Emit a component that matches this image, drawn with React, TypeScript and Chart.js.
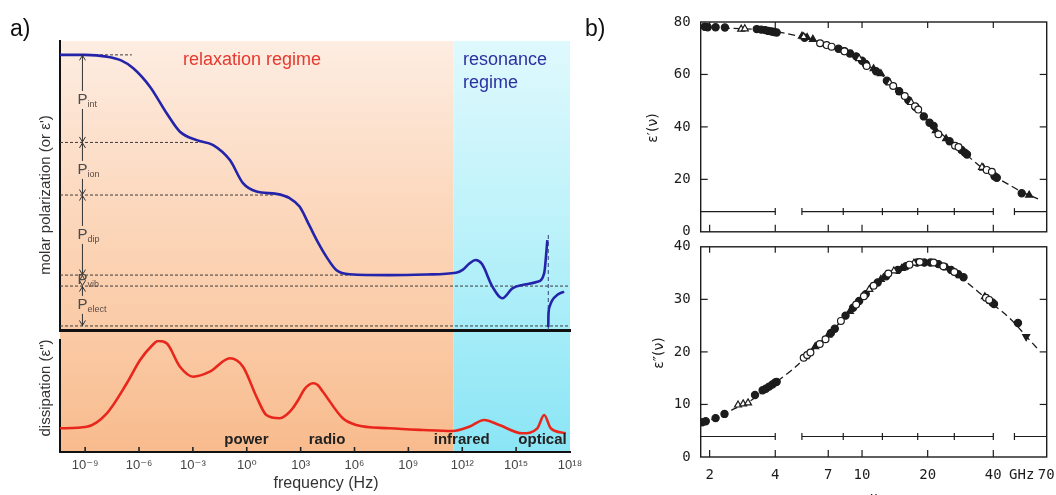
import React, { useEffect, useRef } from 'react';
import { Chart, registerables } from 'chart.js';

Chart.register(...registerables);

const SANS = "'Liberation Sans', Arial, 'DejaVu Sans', sans-serif";
const TYPE = "'DejaVu Sans Mono', monospace";
const INK = '#1c1c1c';

/* ---------------- panel a: generic dielectric spectrum ---------------- */
// frequency is expressed as log10(f / Hz)
const A_LOG_MIN = -10.4;
const A_LOG_MAX = 18;
const RESONANCE_START = 11.5;
const freqExponents = [-9, -6, -3, 0, 3, 6, 9, 12, 15, 18];

// molar polarization, arbitrary units (0..100)
const polLogF = [-10.4, -9, -7.8, -7.0, -6.32, -5.39, -4.46, -3.72, -2.79, -1.87, -0.94, -0.21, 0.54, 1.65, 2.39, 2.94, 3.5, 3.95, 4.43, 4.98, 5.72, 7.94, 10.0, 11.65, 12.02, 12.4, 12.75, 13.1, 13.68, 14.24, 14.79, 15.35, 16.18, 16.56, 16.74];
const polValue = [95.2, 95.2, 94.6, 93.3, 90.6, 84.2, 75.0, 68.6, 65.7, 64.0, 58.8, 50.8, 47.9, 47.1, 45.6, 42.7, 36.0, 30.5, 25.4, 20.8, 19.3, 19.0, 19.2, 19.8, 20.8, 23.0, 24.2, 22.8, 15.0, 11.0, 14.4, 15.6, 16.7, 19.6, 31.1];
// branch above the electronic resonance
const polTailLogF = [16.79, 16.8, 16.86, 17.0, 17.3, 17.67];
const polTailValue = [1.0, 5.0, 8.0, 10.2, 12.2, 13.3];

// boundaries between the polarization contributions
const levelValues = [95.2, 64.9, 46.7, 19.0, 15.2, 1.4];
const levelEnds = [-6.4, -2.6, 1.45, 5.8, 18, 18];
const contribNames = ['int', 'ion', 'dip', 'vib', 'elect'];
const contribLabelValues = [79.6, 55.4, 32.9, 17.3, 8.7];
const ARROW_LOGF = -9.15;
const OPTICAL_EDGE = 16.79;
const OPTICAL_EDGE_TOP = 33.6;

// dissipation, arbitrary units (0..112)
const lossLogF = [-10.4, -8.91, -7.79, -6.68, -5.94, -5.3, -4.93, -4.46, -3.72, -2.98, -2.06, -0.94, -0.21, 0.54, 1.09, 1.83, 2.2, 2.55, 2.9, 3.2, 3.45, 3.7, 3.95, 4.24, 5.35, 6.09, 7.94, 9.79, 11.46, 12.39, 13.22, 14.06, 15.35, 16.18, 16.56, 16.93, 17.76];
const lossValue = [23.7, 25.3, 38.7, 68.7, 92.0, 106.0, 111.0, 108.7, 85.3, 75.3, 80.3, 93.7, 85.3, 55.3, 37.0, 33.7, 37.0, 43.5, 53.0, 62.5, 67.0, 68.7, 67.0, 60.3, 33.7, 27.0, 23.7, 22.0, 21.0, 25.3, 32.0, 27.0, 18.7, 23.7, 37.0, 23.7, 18.7];

const bandNames = ['power', 'radio', 'infrared', 'optical'];
const bandLogF = [-0.02, 4.47, 11.97, 16.47];
const BAND_LABEL_Y = 12;

/* ---------------- panel b: water, permittivity vs frequency (GHz) ---------------- */
const B_F_MIN = 1.82;
const B_F_MAX = 70.3;
const bTickValues = [2, 4, 7, 10, 20, 40, 70];
const bandEdgesGHz = [4.0, 5.3, 8.2, 12.4, 18, 26.5, 40, 50];
const bandSegmentsGHz = [[B_F_MIN, 4.0], [5.3, 40], [50, B_F_MAX]];

// real part
const realCurve = [[1.82, 78.2], [2.5, 77.6], [3.5, 77.0], [4.5, 75.6], [5.5, 74.0], [6.5, 72.2], [8, 69.3], [10, 64.8], [12, 60.5], [14, 56.0], [16, 51.3], [18, 47.0], [20, 42.6], [23, 37.6], [26, 33.8], [30, 29.5], [35, 24.8], [42, 20.4], [48, 17.6], [54, 15.2], [60, 13.6], [66, 12.1]];
const realFilled = [[1.9, 78.2], [1.96, 78.0], [2.13, 78.0], [2.35, 77.9], [3.29, 77.3], [3.45, 77.1], [3.6, 76.9], [3.72, 76.6], [3.85, 76.4], [3.95, 76.2], [4.06, 76.0], [5.45, 74.0], [7.8, 69.8], [8.3, 68.9], [8.8, 68.0], [9.4, 66.9], [10.0, 65.2], [10.4, 64.0], [11.6, 61.2], [13.0, 57.6], [14.8, 53.6], [16.3, 50.2], [17.6, 47.6], [19.2, 44.0], [20.4, 41.6], [21.3, 40.4], [25.2, 34.5], [28.6, 31.2], [29.6, 30.2], [30.3, 29.5], [40.5, 21.2], [41.5, 20.6], [54, 14.7]];
const realOpen = [[6.42, 71.9], [6.88, 71.2], [7.25, 70.6], [8.3, 68.8], [10.5, 63.2], [13.9, 55.6], [15.7, 51.8], [17.5, 47.9], [18.1, 46.6], [22.4, 37.2], [26.7, 32.8], [27.7, 32.3], [37.3, 23.6], [39.4, 22.9]];
const realTriFilled = [[5.3, 74.6], [5.6, 74.1], [5.95, 73.4], [9.0, 67.6], [11.3, 62.2], [12.2, 60.3], [15.0, 53.2], [21.8, 38.6], [24.3, 35.5], [36.0, 24.3], [58.4, 14.0]];
const realTriOpen = [[2.79, 77.3], [2.9, 77.4], [5.4, 74.4], [9.7, 66.0], [13.4, 56.8], [16.8, 49.3], [35.5, 24.6]];

// imaginary part
const imagCurve = [[1.82, 6.5], [2.2, 7.6], [2.6, 9.2], [3.0, 10.4], [3.5, 12.4], [4.0, 14.1], [5.0, 17.3], [6.0, 20.6], [7.0, 23.2], [8.0, 25.8], [9.0, 28.2], [10.0, 30.2], [12.0, 33.5], [14.0, 35.4], [16.0, 36.5], [18.0, 37.0], [20.0, 37.0], [22.0, 36.7], [25.0, 35.7], [28.0, 34.3], [32.0, 32.4], [36.0, 30.6], [40.0, 29.0], [45.0, 27.3], [50.0, 25.5], [56.0, 23.2], [63.5, 20.7]];
const imagFilled = [[1.85, 6.6], [1.92, 6.8], [2.13, 7.4], [2.34, 8.2], [3.23, 11.8], [3.5, 12.7], [3.62, 13.0], [3.75, 13.4], [3.88, 13.8], [4.0, 14.2], [4.06, 14.3], [7.2, 23.6], [7.5, 24.4], [8.4, 26.9], [9.1, 28.4], [9.7, 29.7], [10.4, 31.0], [11.8, 33.2], [12.9, 34.4], [14.6, 35.6], [15.9, 36.3], [17.9, 37.0], [19.3, 37.0], [20.6, 37.0], [22.4, 36.7], [25.6, 35.6], [27.6, 34.8], [29.2, 34.2], [39.6, 29.4], [40.3, 29.1], [51.9, 25.5]];
const imagOpen = [[5.4, 18.9], [5.6, 19.4], [5.8, 19.9], [6.4, 21.5], [6.8, 22.4], [8.0, 25.9], [9.4, 29.0], [10.2, 30.6], [11.3, 32.6], [13.2, 34.9], [16.5, 36.6], [18.4, 37.1], [21.3, 37.0], [23.6, 36.3], [26.5, 35.2], [37.0, 30.3], [38.3, 29.9]];
const imagTriFilled = [[6.1, 21.0], [7.0, 23.2], [8.8, 27.7], [12.2, 33.8], [15.2, 35.9], [24.5, 36.0], [28.2, 34.5], [39.0, 29.6]];
const imagTriOpen = [[2.7, 9.9], [2.85, 10.1], [3.0, 10.3], [5.5, 19.1], [10.8, 31.9], [14.0, 35.4], [17.3, 36.9], [36.6, 30.5]];
const imagTriDown = [[56.6, 22.9]];

/* ---------------- helpers ---------------- */
const SUP: Record<string, string> = {
  '-': '\u207B', '0': '\u2070', '1': '\u00B9', '2': '\u00B2', '3': '\u00B3', '4': '\u2074',
  '5': '\u2075', '6': '\u2076', '7': '\u2077', '8': '\u2078', '9': '\u2079',
};
const powerOfTen = (n: number) => '10' + String(n).split('').map((c) => SUP[c] ?? c).join('');
const toXY = (xs: number[], ys: number[]) => xs.map((x, i) => ({ x, y: ys[i] }));
const pairXY = (pairs: number[][]) => pairs.map(([x, y]) => ({ x, y }));

type Box = { left: number; top: number; width: number; height: number };
const A_TOP: Box = { left: 0, top: 0, width: 600, height: 336 };
const A_BOT: Box = { left: 0, top: 332, width: 600, height: 163 };
const B_TOP: Box = { left: 600, top: 0, width: 456, height: 252 };
const B_BOT: Box = { left: 600, top: 226, width: 456, height: 269 };

// shared page-wide gradient of the two regimes (page y 41 .. 452)
function paintRegimes(chart: any, box: Box, fromY: number) {
  const { ctx, chartArea: a, scales } = chart;
  const split = scales.x.getPixelForValue(RESONANCE_START);
  const g0 = 41 - box.top;
  const g1 = 452 - box.top;
  const orange = ctx.createLinearGradient(0, g0, 0, g1);
  orange.addColorStop(0, '#fdede2');
  orange.addColorStop(0.4, '#fcd8bd');
  orange.addColorStop(0.72, '#facaa5');
  orange.addColorStop(1, '#f8bb8d');
  const cyan = ctx.createLinearGradient(0, g0, 0, g1);
  cyan.addColorStop(0, '#dff9fd');
  cyan.addColorStop(0.45, '#bdf2fa');
  cyan.addColorStop(0.72, '#a3ecf8');
  cyan.addColorStop(1, '#8be5f5');
  ctx.save();
  ctx.fillStyle = orange;
  ctx.fillRect(a.left, fromY, split - a.left, a.bottom - fromY);
  ctx.fillStyle = cyan;
  ctx.fillRect(split, fromY, a.right - split, a.bottom - fromY);
  ctx.restore();
}

function rotatedText(ctx: CanvasRenderingContext2D, text: string, x: number, y: number, font: string, color: string) {
  ctx.save();
  ctx.translate(x, y);
  ctx.rotate(-Math.PI / 2);
  ctx.font = font;
  ctx.fillStyle = color;
  ctx.textAlign = 'center';
  ctx.textBaseline = 'middle';
  ctx.fillText(text, 0, 0);
  ctx.restore();
}

function seg(ctx: CanvasRenderingContext2D, x1: number, y1: number, x2: number, y2: number) {
  ctx.beginPath();
  ctx.moveTo(x1, y1);
  ctx.lineTo(x2, y2);
  ctx.stroke();
}

const hiddenAxis = (extra: any) => ({
  ticks: { display: false },
  grid: { display: false, drawTicks: false },
  ...extra,
});

/* ---------------- panel a, upper: polarization ---------------- */
const polarizationPlugin = {
  id: 'polarizationDecor',
  beforeDraw(chart: any) {
    paintRegimes(chart, A_TOP, chart.chartArea.top);
  },
  afterDatasetsDraw(chart: any) {
    const { ctx, scales } = chart;
    const x = scales.x.getPixelForValue(ARROW_LOGF);
    ctx.save();
    ctx.strokeStyle = '#333';
    ctx.lineWidth = 1;
    const head = (y: number, dir: number) => {
      ctx.beginPath();
      ctx.moveTo(x - 3, y + dir * 5);
      ctx.lineTo(x, y);
      ctx.lineTo(x + 3, y + dir * 5);
      ctx.stroke();
    };
    for (let i = 0; i < contribNames.length; i++) {
      const yTop = scales.y.getPixelForValue(levelValues[i]);
      const yBot = scales.y.getPixelForValue(levelValues[i + 1]);
      const yLab = scales.y.getPixelForValue(contribLabelValues[i]);
      if (yBot - yTop > 25) {
        seg(ctx, x, yTop, x, yLab - 9);
        seg(ctx, x, yLab + 9, x, yBot);
      }
      head(yTop + 0.5, 1);
      head(yBot - 0.5, -1);
      ctx.fillStyle = '#4a4a4a';
      ctx.textBaseline = 'middle';
      ctx.textAlign = 'center';
      ctx.font = `15px ${SANS}`;
      ctx.fillText('P', x, yLab);
      ctx.textAlign = 'left';
      ctx.font = `9px ${SANS}`;
      ctx.fillStyle = '#5a4a44';
      ctx.fillText(contribNames[i], x + 5, yLab + 5);
    }
    ctx.restore();
  },
  afterDraw(chart: any) {
    const { ctx } = chart;
    ctx.save();
    ctx.textBaseline = 'middle';
    ctx.textAlign = 'left';
    ctx.font = `18px ${SANS}`;
    ctx.fillStyle = '#e6392f';
    ctx.fillText('relaxation regime', 183, 60 - A_TOP.top);
    ctx.fillStyle = '#2c31a2';
    ctx.fillText('resonance', 463, 60 - A_TOP.top);
    ctx.fillText('regime', 463, 83 - A_TOP.top);
    ctx.restore();
    rotatedText(ctx, "molar polarization (or \u03B5')", 46, 195 - A_TOP.top, `15px ${SANS}`, '#333');
  },
};

function buildPolarization(canvas: HTMLCanvasElement) {
  const levelSets = levelValues.map((v, i) => ({
    data: [{ x: A_LOG_MIN, y: v }, { x: levelEnds[i], y: v }],
    borderColor: '#3c3c3c',
    borderWidth: 1,
    borderDash: [3, 2],
    pointRadius: 0,
  }));
  return new Chart(canvas, {
    type: 'line',
    data: {
      datasets: [
        { data: toXY(polLogF, polValue), borderColor: '#2424aa', borderWidth: 2.6, pointRadius: 0, cubicInterpolationMode: 'monotone' },
        { data: toXY(polTailLogF, polTailValue), borderColor: '#2424aa', borderWidth: 2.6, pointRadius: 0, cubicInterpolationMode: 'monotone' },
        { data: [{ x: OPTICAL_EDGE, y: 0 }, { x: OPTICAL_EDGE, y: OPTICAL_EDGE_TOP }], borderColor: '#36407e', borderWidth: 1, borderDash: [4, 3], pointRadius: 0 },
        ...levelSets,
      ] as any,
    },
    options: {
      animation: false,
      responsive: false,
      layout: { padding: { left: 33, top: 41, right: 30, bottom: 0 } },
      plugins: { legend: { display: false }, tooltip: { enabled: false } },
      scales: {
        x: hiddenAxis({
          type: 'linear', min: A_LOG_MIN, max: A_LOG_MAX,
          border: { display: true, color: '#111', width: 3 },
          afterFit: (s: any) => { s.height = 6; },
        }),
        y: hiddenAxis({
          min: 0, max: 100,
          border: { display: true, color: '#111', width: 2 },
          afterFit: (s: any) => { s.width = 27; },
        }),
      },
    } as any,
    plugins: [polarizationPlugin],
  });
}

/* ---------------- panel a, lower: dissipation ---------------- */
const dissipationPlugin = {
  id: 'dissipationDecor',
  beforeDraw(chart: any) {
    paintRegimes(chart, A_BOT, 0);
  },
  afterDatasetsDraw(chart: any) {
    const { ctx, scales, chartArea: a } = chart;
    ctx.save();
    ctx.strokeStyle = '#222';
    ctx.lineWidth = 1.6;
    for (const e of freqExponents) {
      const px = scales.x.getPixelForValue(e);
      if (px > a.right - 1) continue;
      seg(ctx, px, a.bottom, px, a.bottom - 5);
    }
    ctx.fillStyle = '#222';
    ctx.font = `bold 15px ${SANS}`;
    ctx.textAlign = 'center';
    ctx.textBaseline = 'middle';
    bandNames.forEach((n, i) => {
      ctx.fillText(n, scales.x.getPixelForValue(bandLogF[i]), scales.y.getPixelForValue(BAND_LABEL_Y));
    });
    ctx.restore();
  },
  afterDraw(chart: any) {
    const { ctx } = chart;
    rotatedText(ctx, 'dissipation (\u03B5")', 46, 388 - A_BOT.top, `15px ${SANS}`, '#333');
    ctx.save();
    ctx.font = `16px ${SANS}`;
    ctx.fillStyle = '#333';
    ctx.textAlign = 'center';
    ctx.textBaseline = 'middle';
    ctx.fillText('frequency (Hz)', 326, 484 - A_BOT.top);
    ctx.restore();
  },
};

function buildDissipation(canvas: HTMLCanvasElement) {
  return new Chart(canvas, {
    type: 'line',
    data: {
      datasets: [
        { data: toXY(lossLogF, lossValue), borderColor: '#e8261c', borderWidth: 2.6, pointRadius: 0, cubicInterpolationMode: 'monotone' },
      ] as any,
    },
    options: {
      animation: false,
      responsive: false,
      layout: { padding: { left: 33, top: 8, right: 30, bottom: 0 } },
      plugins: { legend: { display: false }, tooltip: { enabled: false } },
      scales: {
        x: {
          type: 'linear', min: A_LOG_MIN, max: A_LOG_MAX,
          afterBuildTicks: (s: any) => { s.ticks = freqExponents.map((value) => ({ value })); },
          ticks: {
            callback: (v: any) => powerOfTen(Number(v)),
            font: { family: SANS, size: 13 },
            color: '#444',
            padding: 6,
            maxRotation: 0,
            autoSkip: false,
          },
          grid: { display: false, drawTicks: false },
          border: { display: true, color: '#111', width: 2 },
          afterFit: (s: any) => { s.height = 43; },
        },
        y: hiddenAxis({
          min: 0, max: 112,
          border: { display: true, color: '#111', width: 2 },
          afterFit: (s: any) => { s.width = 27; },
        }),
      },
    } as any,
    plugins: [dissipationPlugin],
  });
}

/* ---------------- panel b ---------------- */
type BSpec = {
  box: Box;
  yMax: number;
  yStep: number;
  bandY: number;
  padTop: number;
  xHeight: number;
  showX: boolean;
  title: string;
  titleX: number;
  titleY: number;
  curve: number[][];
  filled: number[][];
  open: number[][];
  triFilled: number[][];
  triOpen: number[][];
  triDown?: number[][];
};

function bDecor(spec: BSpec) {
  return {
    id: 'permittivityFrame',
    afterDatasetsDraw(chart: any) {
      const { ctx, chartArea: a, scales: { x, y } } = chart;
      ctx.save();
      ctx.strokeStyle = INK;
      ctx.lineWidth = 1.4;
      ctx.strokeRect(a.left, a.top, a.right - a.left, a.bottom - a.top);
      ctx.lineWidth = 1.2;
      for (const v of bTickValues) {
        const px = x.getPixelForValue(v);
        if (px > a.right - 3) continue;
        seg(ctx, px, a.bottom, px, a.bottom - 7);
        seg(ctx, px, a.top, px, a.top + 6);
      }
      for (let v = spec.yStep; v < spec.yMax; v += spec.yStep) {
        const py = y.getPixelForValue(v);
        seg(ctx, a.left, py, a.left + 7, py);
        seg(ctx, a.right, py, a.right - 7, py);
      }
      const by = y.getPixelForValue(spec.bandY);
      for (const [s, e] of bandSegmentsGHz) seg(ctx, x.getPixelForValue(s), by, x.getPixelForValue(e), by);
      for (const f of bandEdgesGHz) {
        const px = x.getPixelForValue(f);
        seg(ctx, px, by - 3.5, px, by + 3.5);
      }
      ctx.restore();
    },
    afterDraw(chart: any) {
      const { ctx, chartArea: a, scales: { x } } = chart;
      rotatedText(ctx, spec.title, spec.titleX - spec.box.left, spec.titleY - spec.box.top, `14px 'DejaVu Sans', sans-serif`, INK);
      if (spec.showX) {
        ctx.save();
        ctx.font = `14px ${TYPE}`;
        ctx.fillStyle = INK;
        ctx.textAlign = 'center';
        ctx.textBaseline = 'middle';
        ctx.fillText('GHz', x.getPixelForValue(54), 475 - spec.box.top);
        ctx.textBaseline = 'alphabetic';
        ctx.fillText('\u03BD', (a.left + a.right) / 2 + 0.5, 502 - spec.box.top);
        ctx.restore();
      }
    },
  };
}

function buildPermittivity(canvas: HTMLCanvasElement, spec: BSpec) {
  const marker = (data: number[][], style: string, fill: string, radius: number, rotation = 0) => ({
    type: 'scatter',
    data: pairXY(data),
    pointStyle: style,
    pointRadius: radius,
    pointRotation: rotation,
    pointBackgroundColor: fill,
    pointBorderColor: INK,
    pointBorderWidth: 1.2,
    showLine: false,
  });
  const rightEdge = spec.box.left + spec.box.width - 1046.7;
  return new Chart(canvas, {
    type: 'line',
    data: {
      datasets: [
        marker(spec.open, 'circle', '#ffffff', 3.4),
        marker(spec.triOpen, 'triangle', '#ffffff', 4),
        marker(spec.filled, 'circle', INK, 3.6),
        marker(spec.triFilled, 'triangle', INK, 4),
        marker(spec.triDown ?? [], 'triangle', INK, 4, 180),
        { data: pairXY(spec.curve), borderColor: INK, borderWidth: 1.3, borderDash: [7, 4], pointRadius: 0, tension: 0.3 },
      ] as any,
    },
    options: {
      animation: false,
      responsive: false,
      layout: { padding: { left: 0, top: spec.padTop, right: rightEdge, bottom: 0 } },
      plugins: { legend: { display: false }, tooltip: { enabled: false } },
      scales: {
        x: {
          type: 'logarithmic', min: B_F_MIN, max: B_F_MAX,
          afterBuildTicks: (s: any) => { s.ticks = bTickValues.map((value) => ({ value })); },
          ticks: {
            display: spec.showX,
            callback: (v: any) => String(v),
            // the tall line box keeps the labels off the frame without widening the side padding
            font: { family: TYPE, size: 14, lineHeight: '36px' },
            color: INK,
            padding: 0,
            maxRotation: 0,
            autoSkip: false,
          },
          grid: { display: false, drawTicks: false },
          border: { display: false },
          afterFit: (s: any) => { s.height = spec.xHeight; },
        },
        y: {
          min: 0, max: spec.yMax,
          ticks: { stepSize: spec.yStep, font: { family: TYPE, size: 14 }, color: INK, padding: 10 },
          grid: { display: false, drawTicks: false },
          border: { display: false },
          afterFit: (s: any) => { s.width = 100.7; },
        },
      },
    } as any,
    plugins: [bDecor(spec)],
  });
}

// frame of the upper plot: page y 22 (80) .. 231.8 (0); lower plot: 246.8 (40) .. 457 (0)
const realSpec: BSpec = {
  box: B_TOP, yMax: 80, yStep: 20, bandY: 7.7, padTop: 22, xHeight: B_TOP.height - 231.8, showX: false,
  title: '\u03B5\u2032(\u03BD)', titleX: 653, titleY: 128,
  curve: realCurve, filled: realFilled, open: realOpen, triFilled: realTriFilled, triOpen: realTriOpen,
};
const imagSpec: BSpec = {
  box: B_BOT, yMax: 40, yStep: 10, bandY: 3.9, padTop: 246.8 - B_BOT.top, xHeight: B_BOT.top + B_BOT.height - 457, showX: true,
  title: '\u03B5\u2033(\u03BD)', titleX: 659, titleY: 353,
  curve: imagCurve, filled: imagFilled, open: imagOpen, triFilled: imagTriFilled, triOpen: imagTriOpen, triDown: imagTriDown,
};

/* ---------------- components ---------------- */
function ChartBox({ box, build }: { box: Box; build: (c: HTMLCanvasElement) => Chart }) {
  const ref = useRef<HTMLCanvasElement>(null);
  useEffect(() => {
    const chart = build(ref.current as HTMLCanvasElement);
    return () => chart.destroy();
  }, []);
  return (
    <canvas
      ref={ref}
      width={box.width}
      height={box.height}
      style={{ position: 'absolute', left: box.left, top: box.top, width: box.width, height: box.height }}
    />
  );
}

export default function App() {
  const panelLabel: React.CSSProperties = {
    position: 'absolute', fontFamily: SANS, fontSize: 23, color: '#111', lineHeight: '26px',
  };
  return (
    <div style={{ position: 'fixed', left: 0, top: 0, width: 1056, height: 495, overflow: 'hidden', background: '#fff' }}>
      <ChartBox box={A_TOP} build={buildPolarization} />
      <ChartBox box={A_BOT} build={buildDissipation} />
      <ChartBox box={B_TOP} build={(c) => buildPermittivity(c, realSpec)} />
      <ChartBox box={B_BOT} build={(c) => buildPermittivity(c, imagSpec)} />
      <div style={{ ...panelLabel, left: 10, top: 15 }}>a)</div>
      <div style={{ ...panelLabel, left: 585, top: 15 }}>b)</div>
    </div>
  );
}
